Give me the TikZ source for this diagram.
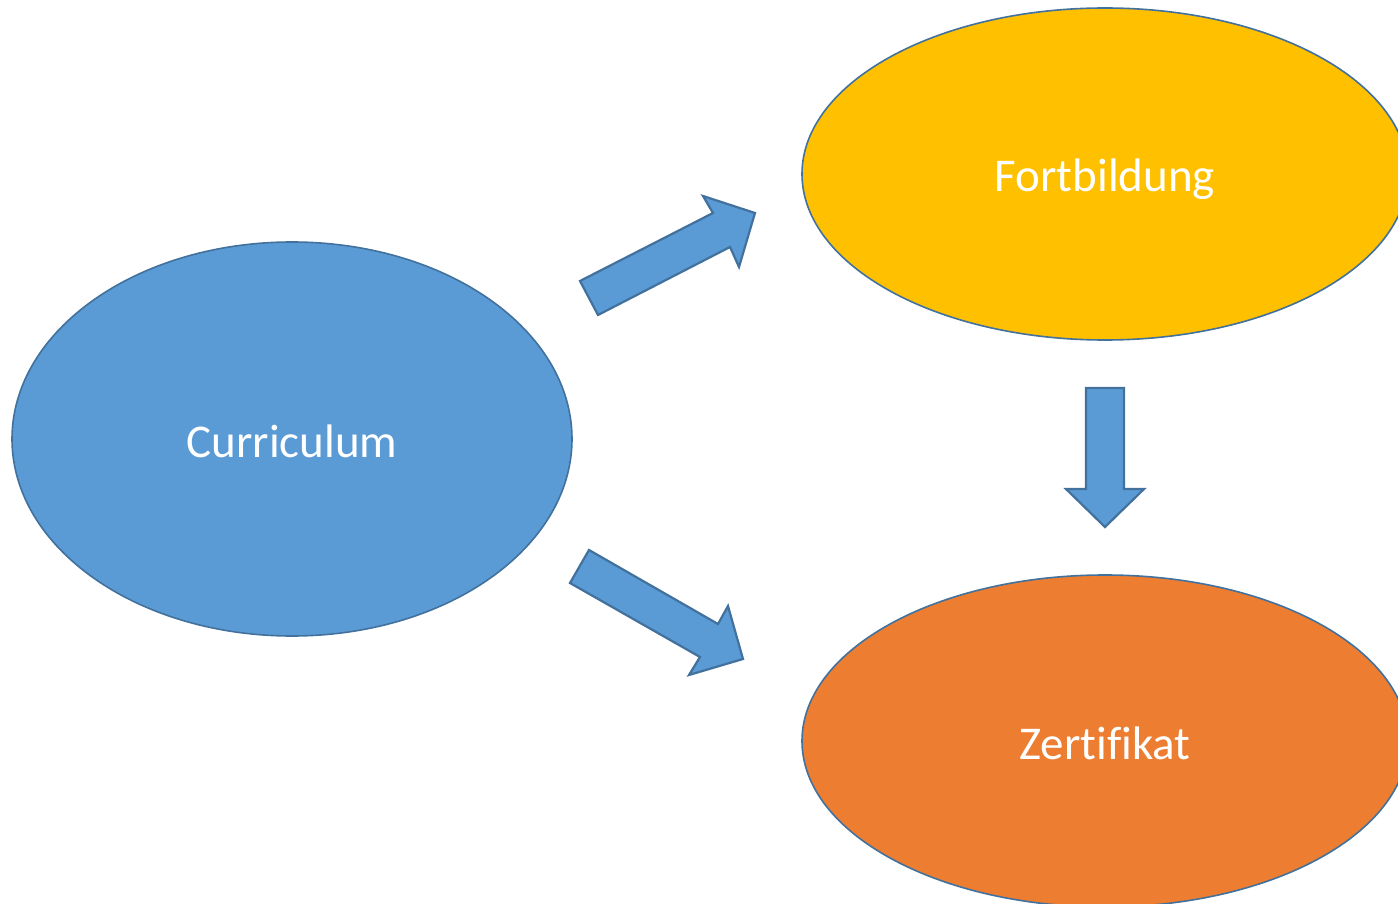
\documentclass[tikz,border=0pt]{standalone}
\usepackage{fontspec}
\setmainfont[Ligatures=NoCommon]{Carlito}
\usetikzlibrary{shapes.geometric}
\definecolor{cblue}{HTML}{5B9BD5}
\definecolor{cyellow}{HTML}{FFC000}
\definecolor{corange}{HTML}{ED7D31}
\definecolor{cline}{HTML}{41719C}
\begin{document}
\begin{tikzpicture}[x=1pt,y=-1pt,
  blob/.style={ellipse,draw=cline,line width=1.6pt,inner sep=0pt,text=white,
    text height=36pt,text depth=0pt,
    font=\fontsize{47}{56}\selectfont},
  blockarrow/.style={fill=cblue,draw=cline,line width=2.2pt,line join=miter}]
\useasboundingbox (0,0) rectangle (1398,904);
\clip (0,0) rectangle (1398,904);
\node[blob,fill=cblue,minimum width=560pt,minimum height=394pt] (cur) at (292,439) {Curriculum};
\node[blob,fill=cyellow,minimum width=606pt,minimum height=332pt] (fort) at (1105,174) {Fortbildung};
\node[blob,fill=corange,minimum width=606pt,minimum height=332pt] (zert) at (1105,741) {Zertif\kern0pt ikat};
% upper block arrow
\draw[blockarrow] (580,281) -- (713,213) -- (703,196) -- (755,213) -- (739,267) -- (730,247) -- (598,315) -- cycle;
% lower block arrow
\draw[blockarrow] (589,550) -- (718,624) -- (728,606) -- (743,659) -- (689,675) -- (700,657) -- (570,583) -- cycle;
% down block arrow
\draw[blockarrow] (1086,388) -- (1124,388) -- (1124,489) -- (1144,489) -- (1105,527) -- (1066,489) -- (1086,489) -- cycle;
\end{tikzpicture}
\end{document}
